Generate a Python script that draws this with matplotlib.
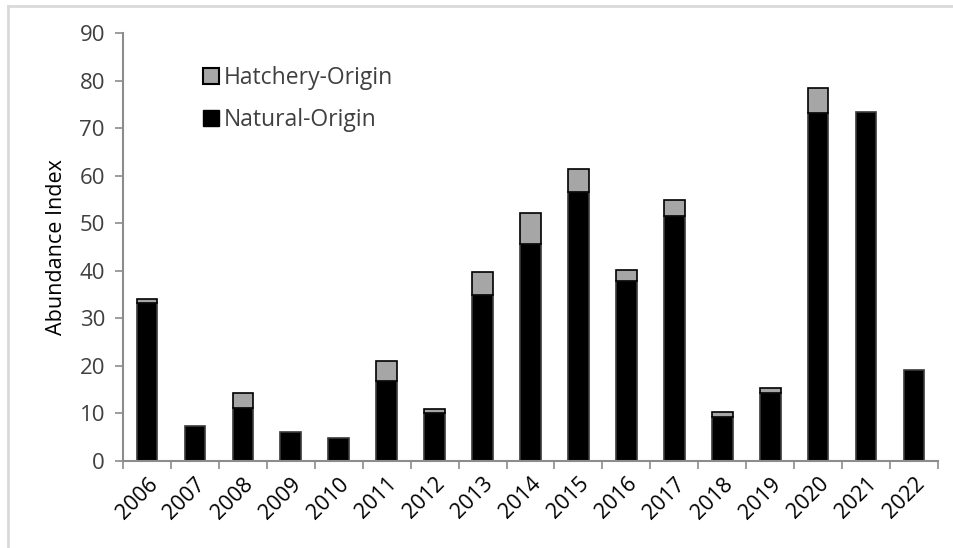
import numpy as np
import matplotlib.pyplot as plt
from matplotlib.lines import Line2D

# abundance index by year
years = ['2006', '2007', '2008', '2009', '2010', '2011', '2012', '2013', '2014',
         '2015', '2016', '2017', '2018', '2019', '2020', '2021', '2022']
natural = [33.2, 7.4, 11.1, 6.0, 4.8, 16.8, 10.0, 34.9, 45.6,
           56.5, 37.8, 51.5, 9.3, 14.2, 73.1, 73.3, 19.2]
hatchery = [0.8, 0, 3.1, 0, 0, 4.3, 1.0, 4.9, 6.6,
            4.8, 2.3, 3.4, 0.9, 1.2, 5.4, 0, 0]
y_ticks = [0, 10, 20, 30, 40, 50, 60, 70, 80, 90]

plt.rcParams['font.family'] = ['Open Sans', 'DejaVu Sans']
text_color = '#404040'
axis_color = '#8c8c8c'

fig = plt.figure(figsize=(9.54, 5.48), dpi=100)
ax = fig.add_axes([123 / 954, 1 - 461 / 548, (938 - 123) / 954, (461 - 33) / 548])

x = np.arange(len(years))
bar_w = 0.43
ax.bar(x, natural, width=bar_w, color='black', edgecolor='#3a3a3a', linewidth=1.2)
hx = [xi for xi, h in zip(x, hatchery) if h > 0]
hb = [n for n, h in zip(natural, hatchery) if h > 0]
hh = [h for h in hatchery if h > 0]
ax.bar(hx, hh, bottom=hb, width=bar_w, color='#a6a6a6', edgecolor='black', linewidth=1.2)

ax.set_xlim(-0.5, len(years) - 0.5)
ax.set_ylim(0, 90)
ax.set_yticks(y_ticks)
ax.set_yticklabels([str(t) for t in y_ticks])
ax.set_xticks(x)
ax.set_xticklabels(years, rotation=45, ha='right', rotation_mode='anchor')
ax.tick_params(axis='x', length=0, pad=9, labelsize=15.5, labelcolor='black')
ax.tick_params(axis='y', length=6, width=1.2, color=axis_color, pad=7,
               labelsize=16, labelcolor=text_color)
# category separator ticks along the x axis
ax.set_xticks(np.arange(len(years) + 1) - 0.5, minor=True)
ax.tick_params(axis='x', which='minor', length=6, width=1.2, color=axis_color, direction='out')

for side in ['top', 'right']:
    ax.spines[side].set_visible(False)
for side in ['left', 'bottom']:
    ax.spines[side].set_color(axis_color)
    ax.spines[side].set_linewidth(1.5)

ax.set_ylabel('Abundance Index', fontsize=15.5, color='black', labelpad=9)

handles = [
    Line2D([], [], marker='s', linestyle='none', markersize=11,
           markerfacecolor='#a6a6a6', markeredgecolor='black', markeredgewidth=1.5),
    Line2D([], [], marker='s', linestyle='none', markersize=11,
           markerfacecolor='black', markeredgecolor='black'),
]
ax.legend(handles, ['Hatchery-Origin', 'Natural-Origin'], frameon=False,
          loc='upper left', bbox_to_anchor=(0.083, 0.945), fontsize=16.5,
          handletextpad=0.05, labelspacing=0.8, borderaxespad=0,
          labelcolor=text_color, handlelength=1.0)

# faint frame lines along the top and left edges of the picture
fig.add_artist(Line2D([8 / 954, 1], [1 - 6 / 548, 1 - 6 / 548],
                      transform=fig.transFigure, color='#d9d9d9', linewidth=2))
fig.add_artist(Line2D([8 / 954, 8 / 954], [0, 1 - 6 / 548],
                      transform=fig.transFigure, color='#d9d9d9', linewidth=2))

fig.savefig('out.png', dpi=100)
